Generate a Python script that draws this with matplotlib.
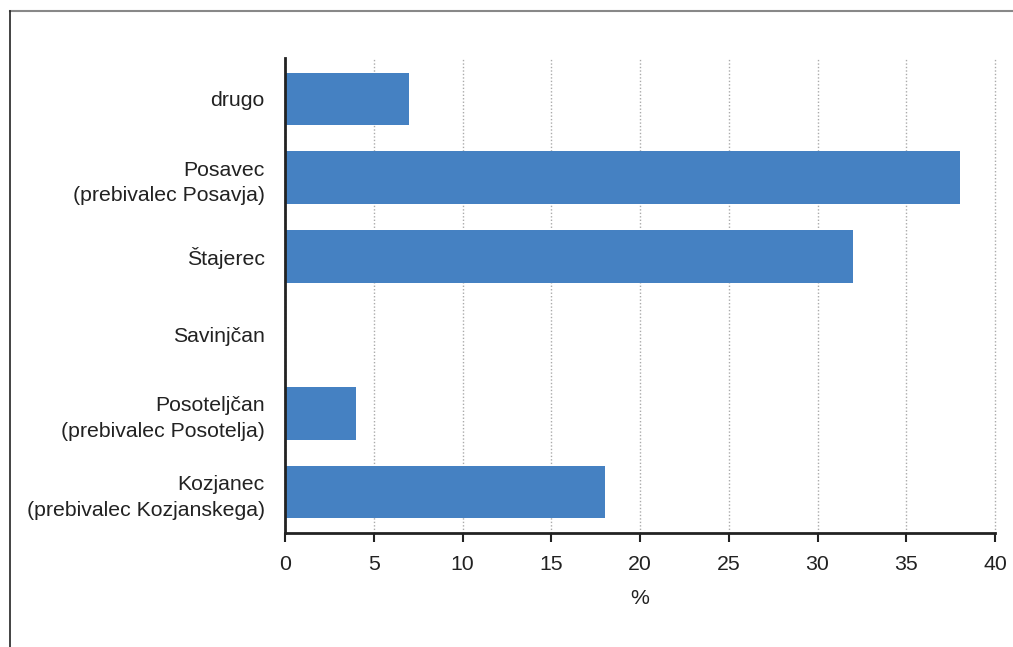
import matplotlib
matplotlib.use("Agg")
import matplotlib.pyplot as plt
from matplotlib.lines import Line2D

plt.rcParams['font.family'] = ['Liberation Sans', 'DejaVu Sans']

categories = [
    "Kozjanec\n(prebivalec Kozjanskega)",
    "Posoteljčan\n(prebivalec Posotelja)",
    "Savinjčan",
    "Štajerec",
    "Posavec\n(prebivalec Posavja)",
    "drugo",
]
values = [18, 4, 0, 32, 38, 7]
x_ticks = [0, 5, 10, 15, 20, 25, 30, 35, 40]

FS = 15.3
TXT = "#222222"

fig = plt.figure(figsize=(10.13, 6.47), dpi=100)
ax = fig.add_axes([285 / 1013, 1 - 533 / 647, 710 / 1013, 475 / 647])

ax.barh(range(len(categories)), values, height=0.67, color="#4581c2", zorder=2)

ax.set_xlim(0, 40)
ax.set_ylim(-0.52, len(categories) - 0.48)
ax.set_xticks(x_ticks)
ax.set_xticklabels([str(t) for t in x_ticks])
ax.set_yticks(range(len(categories)))
ax.set_yticklabels(categories, ha="right", multialignment="right", linespacing=1.45)
ax.tick_params(axis="y", length=0, pad=14.5, labelsize=FS, colors=TXT)
ax.tick_params(axis="x", length=6.8, width=1.5, pad=8.8, labelsize=FS,
               colors=TXT, direction="out")
ax.xaxis.grid(True, linestyle=(0, (1, 1.5)), color="#aaaaaa", linewidth=1, zorder=0)
for gl in ax.get_xgridlines():
    gl.set_clip_on(False)
ax.set_axisbelow(True)
ax.set_xlabel("%", fontsize=FS, color=TXT, labelpad=11)

for side in ("top", "right"):
    ax.spines[side].set_visible(False)
for side in ("left", "bottom"):
    ax.spines[side].set_linewidth(2)
    ax.spines[side].set_color(TXT)

# frame lines along the top and left edges of the figure
fig.add_artist(Line2D([10 / 1013, 1], [1 - 10.5 / 647, 1 - 10.5 / 647],
                      transform=fig.transFigure, color="#888888", linewidth=1.5))
fig.add_artist(Line2D([10 / 1013, 10 / 1013], [0, 1 - 10.5 / 647],
                      transform=fig.transFigure, color="#222222", linewidth=1.2))

fig.savefig("out.png", dpi=100)
